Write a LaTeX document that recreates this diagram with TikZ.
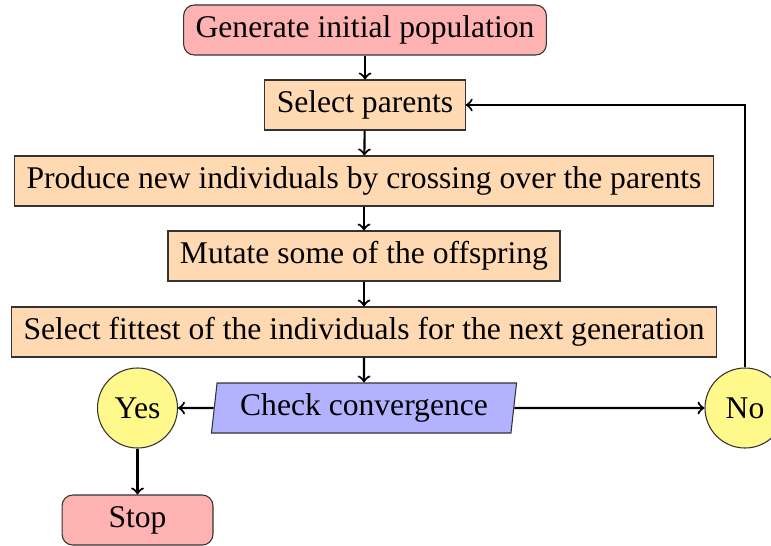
\documentclass[tikz,border=0pt]{standalone}
\usepackage{fontspec}
\setmainfont{Liberation Serif}
\usetikzlibrary{shapes.geometric}
\begin{document}
\begin{tikzpicture}[x=0.375pt,y=-0.375pt,
  font=\fontsize{11.85}{14}\selectfont,
  base/.style={draw=black!80, minimum height=18.75pt, inner xsep=4.5pt, inner ysep=0pt},
  startstop/.style={base, rectangle, rounded corners=4pt, fill=red!30, minimum width=56.6pt},
  process/.style={base, rectangle, fill=orange!30},
  io/.style={base, trapezium, trapezium left angle=79, trapezium right angle=101,
             trapezium stretches body, fill=blue!30, minimum width=114.4pt},
  decision/.style={draw=black!80, circle, fill=yellow!45, minimum size=30pt, inner sep=0pt},
  arrow/.style={thick, ->}]
\useasboundingbox (0,0) rectangle (771,545);

\node[startstop] (start) at (365,30) {Generate initial population};
\node[process] (parents) at (365,105) {Select parents};
\node[process] (cross) at (364,181) {Produce new individuals by crossing over the parents};
\node[process] (mutate) at (364,256) {Mutate some of the offspring};
\node[process] (fittest) at (364,332) {Select fittest of the individuals for the next generation};
\node[io] (check) at (364,408) {Check convergence};
\node[decision] (yes) at (137.5,408) {Yes};
\node[decision] (no) at (745,408) {No};
\node[startstop] (stop) at (137.5,520) {Stop};

\draw[arrow] (start) -- (parents);
\draw[arrow] (parents) -- (cross);
\draw[arrow] (cross) -- (mutate);
\draw[arrow] (mutate) -- (fittest);
\draw[arrow] (fittest) -- (check);
\draw[arrow] (check) -- (yes);
\draw[arrow] (check) -- (no);
\draw[arrow] (no.north) |- (parents.east);
\draw[arrow] (yes) -- (stop);
\end{tikzpicture}
\end{document}
